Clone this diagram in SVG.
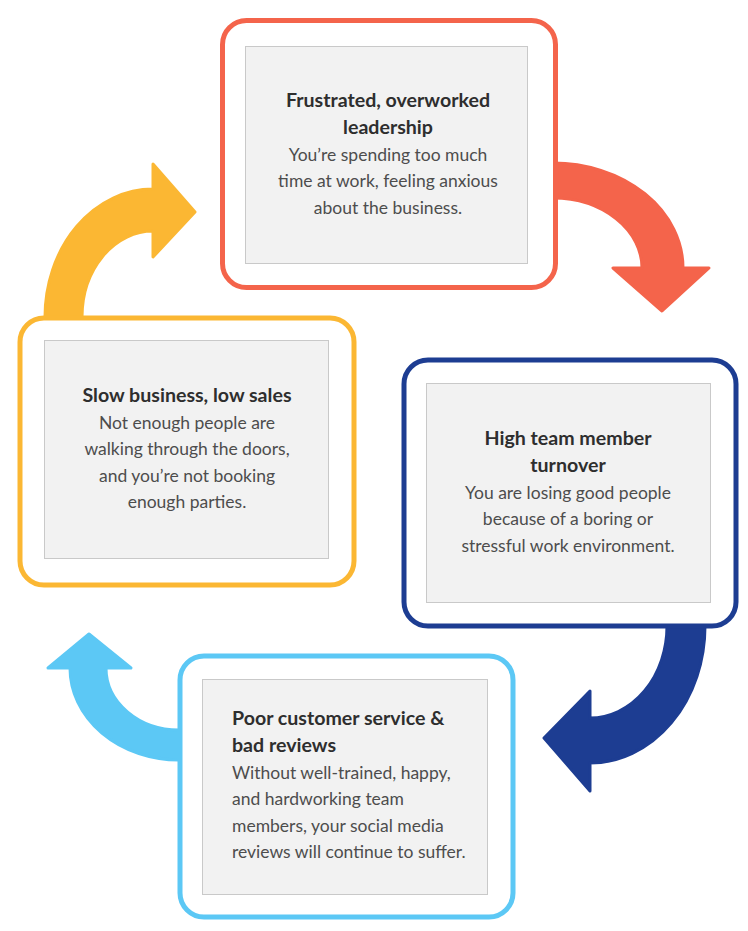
<svg xmlns="http://www.w3.org/2000/svg" width="748" height="931" viewBox="0 0 748 931">
<style>
.frame{fill:#ffffff;stroke-width:5}
.panel{fill:#f2f2f2;stroke:#c9c9c9;stroke-width:1}
.t{font-family:Lato,"Open Sans",sans-serif;font-size:19.6px;font-weight:700;fill:#2e2e2e}
.b{font-family:Lato,"Open Sans",sans-serif;font-size:17.5px;font-weight:400;fill:#4d4d4d}
.c{text-anchor:middle}
.arr{stroke-width:3;stroke-linejoin:round}
</style>
<rect width="748" height="931" fill="#ffffff"/>
<g id="connectors">
<path class="arr" fill="#f4644b" stroke="#f4644b" d="M553,163 A130,105 0 0 1 683,268 L709,268 L662,311 L613,268 L642,268 A89,70 0 0 0 553,198 Z"/>
<path class="arr" fill="#1d3d92" stroke="#1d3d92" d="M705,626 A115,137 0 0 1 590,763 L590,791 L544,738 L590,691 L590,718 A77,92 0 0 0 667,626 Z"/>
<path class="arr" fill="#5cc8f5" stroke="#5cc8f5" d="M179,760 A109,92 0 0 1 70,668 L48,668 L89,634 L131,668 L106,668 A73,62 0 0 0 179,730 Z"/>
<path class="arr" fill="#fbb733" stroke="#fbb733" d="M45,317 A108,128 0 0 1 153,189 L153,164 L195,212 L153,257 L153,231 A71,86 0 0 0 82,317 Z"/>
</g>
<g id="node-leadership">
<rect class="frame" x="222.5" y="20.5" width="333" height="267" rx="24" stroke="#f4644b"/>
<rect class="panel" x="245.5" y="46.5" width="282" height="217"/>
<text class="t c" x="388" y="107">Frustrated, overworked</text>
<text class="t c" x="388" y="134">leadership</text>
<text class="b c" x="388" y="161">You’re spending too much</text>
<text class="b c" x="388" y="187">time at work, feeling anxious</text>
<text class="b c" x="388" y="214">about the business.</text>
</g>
<g id="node-turnover">
<rect class="frame" x="404" y="360" width="332" height="266" rx="24" stroke="#1d3d92"/>
<rect class="panel" x="426.5" y="383.5" width="284" height="219"/>
<text class="t c" x="568" y="445">High team member</text>
<text class="t c" x="568" y="472">turnover</text>
<text class="b c" x="568" y="499">You are losing good people</text>
<text class="b c" x="568" y="525">because of a boring or</text>
<text class="b c" x="568" y="552">stressful work environment.</text>
</g>
<g id="node-service">
<rect class="frame" x="180" y="656" width="333" height="261" rx="24" stroke="#5cc8f5"/>
<rect class="panel" x="202.5" y="679.5" width="285" height="215"/>
<text class="t" x="232" y="725">Poor customer service &amp;</text>
<text class="t" x="232" y="752">bad reviews</text>
<text class="b" x="232" y="779">Without well-trained, happy,</text>
<text class="b" x="232" y="805">and hardworking team</text>
<text class="b" x="232" y="832">members, your social media</text>
<text class="b" x="232" y="858">reviews will continue to suffer.</text>
</g>
<g id="node-sales">
<rect class="frame" x="20" y="318" width="334" height="267" rx="24" stroke="#fbb733"/>
<rect class="panel" x="44.5" y="340.5" width="284" height="218"/>
<text class="t c" x="187" y="402">Slow business, low sales</text>
<text class="b c" x="187" y="429">Not enough people are</text>
<text class="b c" x="187" y="455">walking through the doors,</text>
<text class="b c" x="187" y="482">and you’re not booking</text>
<text class="b c" x="187" y="508">enough parties.</text>
</g>
</svg>
